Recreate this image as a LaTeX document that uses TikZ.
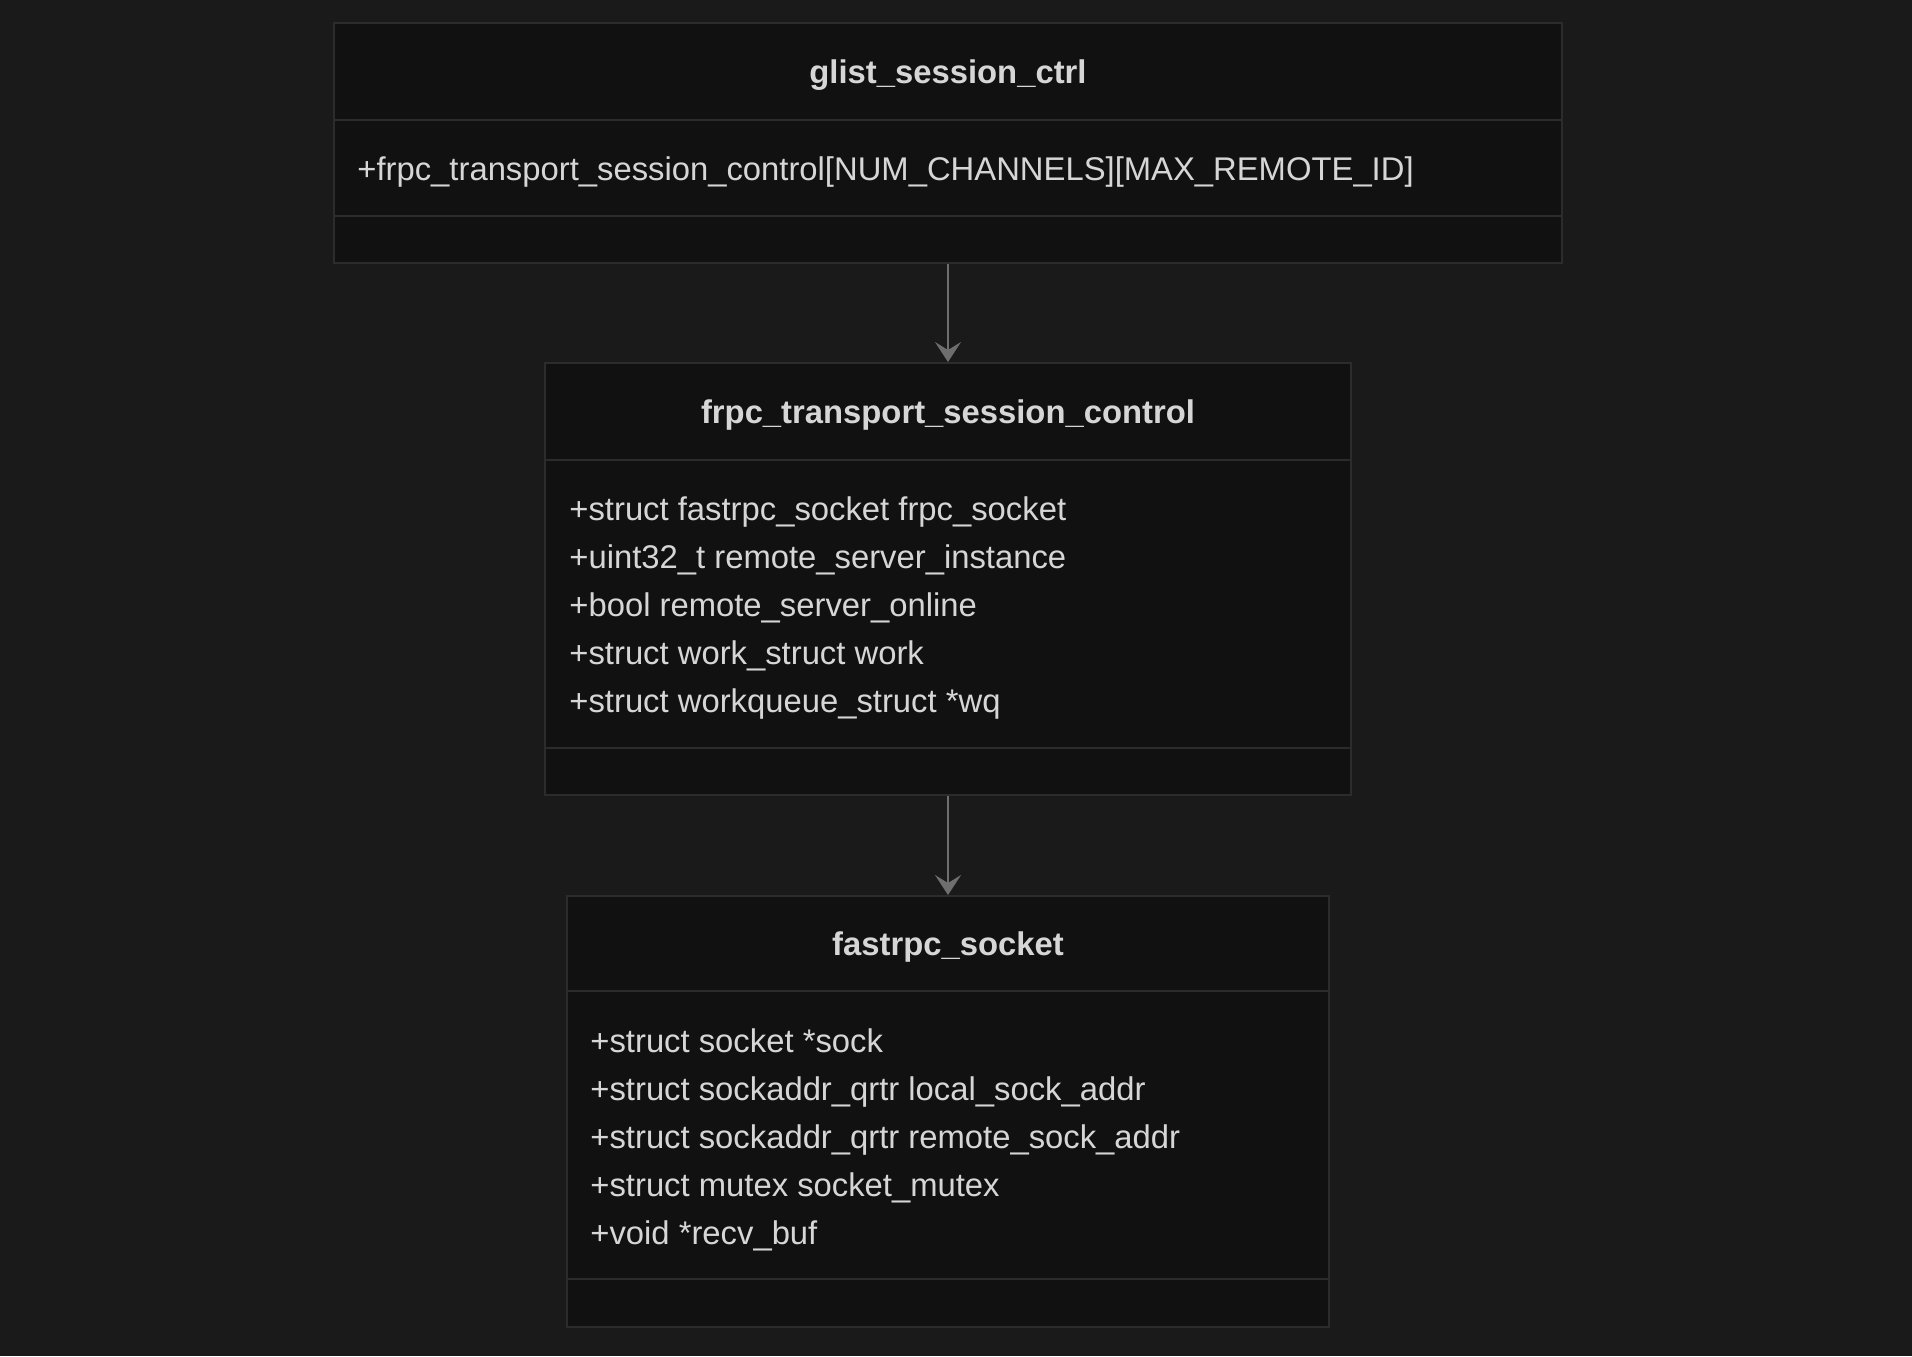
\documentclass[tikz,border=0pt]{standalone}
\usepackage{fontspec}
\setmainfont{Liberation Sans}
\usetikzlibrary{arrows.meta,positioning}
\definecolor{bg}{HTML}{1A1A1A}
\definecolor{boxfill}{HTML}{111111}
\definecolor{edge}{HTML}{2C2C2C}
\definecolor{ink}{HTML}{D6D6D6}
\definecolor{link}{HTML}{6E6E6E}
\tikzset{
  classbox/.style={draw=edge, fill=boxfill, line width=1pt, inner sep=0pt},
  sep/.style={draw=edge, line width=1pt},
  title/.style={text=ink, font=\fontsize{16.4}{24}\selectfont\bfseries, anchor=base, inner sep=0pt},
  attr/.style={text=ink, font=\fontsize{16.4}{24}\selectfont, anchor=base west, inner sep=0pt},
  rel/.style={draw=link, line width=1pt, -{Stealth[length=10pt,width=13pt,inset=4pt]}},
}
\begin{document}
\begin{tikzpicture}[x=0.5pt, y=-0.5pt]
  \fill[bg] (0,0) rectangle (1912,1356);
  \useasboundingbox (0,0) rectangle (1912,1356);
  % glist_session_ctrl
  \node[classbox, minimum width=614pt, minimum height=120pt] (glist) at (948,143) {};
  \draw[sep] (glist.west |- 0,119.5) -- (glist.east |- 0,119.5);
  \draw[sep] (glist.west |- 0,216) -- (glist.east |- 0,216);
  \node[title] (glist-t) at (948,83) {glist\_session\_ctrl};
  \node[attr] (glist-a) at (357,180) {+frpc\_transport\_session\_control[NUM\_CHANNELS][MAX\_REMOTE\_ID]};
  % frpc_transport_session_control
  \node[classbox, minimum width=403pt, minimum height=216pt] (ctrl) at (948,579) {};
  \draw[sep] (ctrl.west |- 0,460) -- (ctrl.east |- 0,460);
  \draw[sep] (ctrl.west |- 0,747.5) -- (ctrl.east |- 0,747.5);
  \node[title] (ctrl-t) at (948,423) {frpc\_transport\_session\_control};
  \foreach \txt [count=\i from 0] in {+struct fastrpc\_socket frpc\_socket,
      +uint32\_t remote\_server\_instance, +bool remote\_server\_online,
      +struct work\_struct work, +struct workqueue\_struct *wq}
    \node[attr] (ctrl-a\i) at (569,520+48*\i) {\txt};
  % fastrpc_socket
  \node[classbox, minimum width=381pt, minimum height=215.5pt] (sock) at (948,1111.5) {};
  \draw[sep] (sock.west |- 0,991) -- (sock.east |- 0,991);
  \draw[sep] (sock.west |- 0,1279) -- (sock.east |- 0,1279);
  \node[title] (sock-t) at (948,955) {fastrpc\_socket};
  \foreach \txt [count=\i from 0] in {+struct socket *sock,
      +struct sockaddr\_qrtr local\_sock\_addr, +struct sockaddr\_qrtr remote\_sock\_addr,
      +struct mutex socket\_mutex, +void *recv\_buf}
    \node[attr] (sock-a\i) at (590,1052+48*\i) {\txt};
  % links
  \draw[rel] (glist.south) -- (ctrl.north);
  \draw[rel] (ctrl.south) -- (sock.north);
\end{tikzpicture}
\end{document}
